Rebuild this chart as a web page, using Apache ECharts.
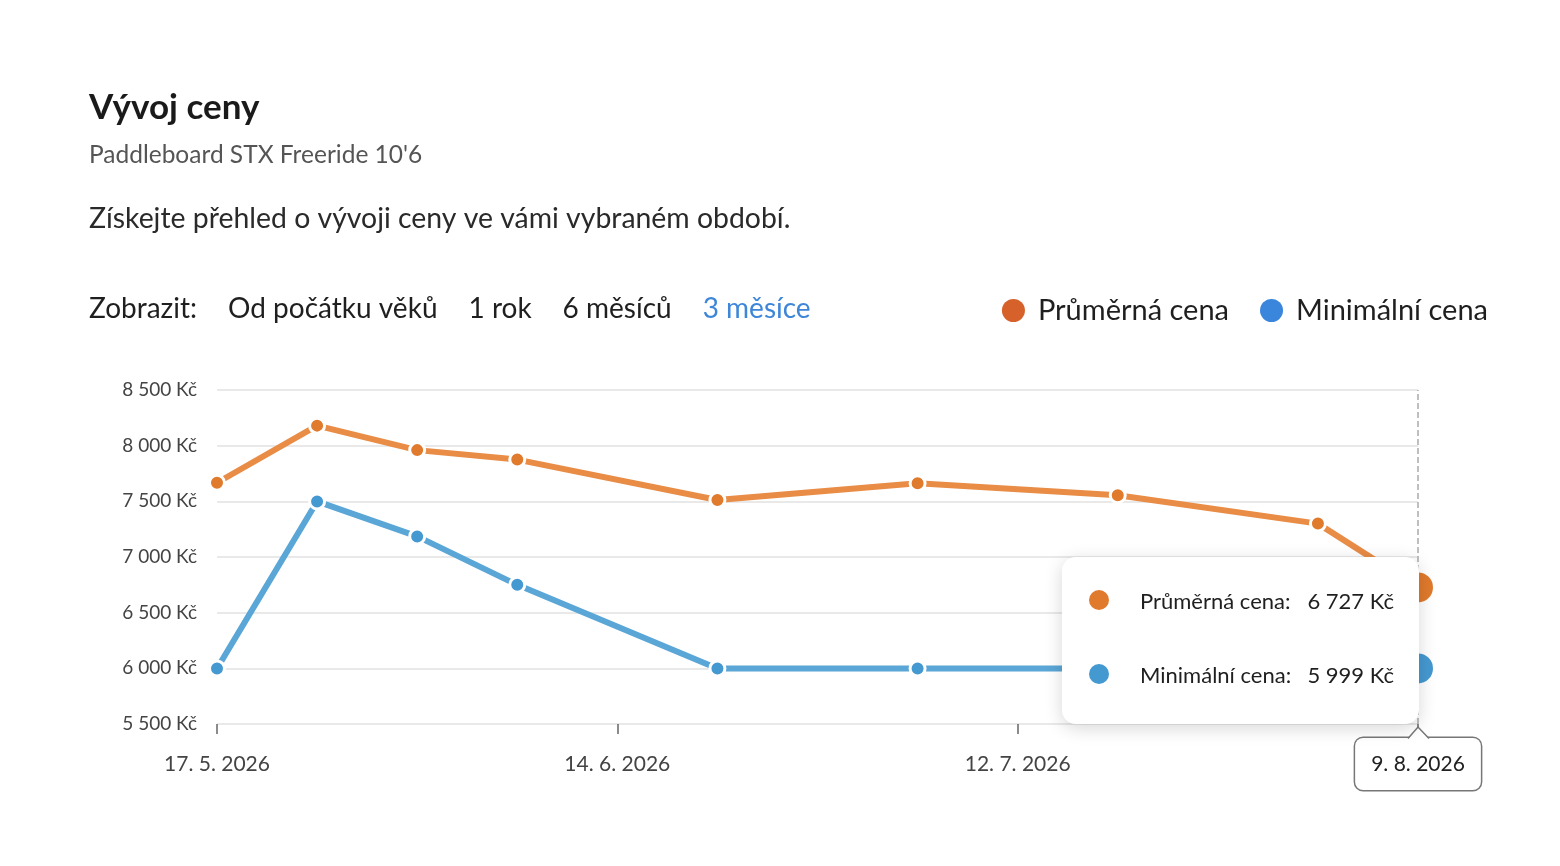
<!DOCTYPE html>
<html>

<head>
    <meta charset="utf-8">
    <title>Vývoj ceny</title>
    <script src="https://cdn.jsdelivr.net/npm/echarts@6/dist/echarts.min.js"></script>
    <style>
        html, body {
            margin: 0;
            padding: 0;
            background: #fff;
        }

        #view {
            width: 1560px;
            height: 866px;
        }
    </style>
</head>

<body>
    <div id="view"></div>
    <script>
        // data
        var dates = ['2026-05-17', '2026-05-24', '2026-05-31', '2026-06-07', '2026-06-21',
            '2026-07-05', '2026-07-19', '2026-08-02', '2026-08-09'];
        var avgPrice = [7667, 8180, 7960, 7875, 7512, 7662, 7555, 7300, 6727];
        var minPrice = [5999, 7499, 7185, 6750, 5999, 5999, 5999, 5999, 5999];
        var seriesNames = ['Průměrná cena', 'Minimální cena'];
        var periods = ['Od počátku věků', '1 rok', '6 měsíců', '3 měsíce'];
        var activePeriod = 3;
        var yTicks = [5500, 6000, 6500, 7000, 7500, 8000, 8500];

        var FONT = 'Lato, "Noto Sans", sans-serif';
        var DAY = 86400000;
        var start = Date.parse(dates[0]);
        // x = days since first date
        function dayOf(d) { return Math.round((Date.parse(d) - start) / DAY); }
        function dateLabel(day) {
            var d = new Date(start + day * DAY);
            return d.getUTCDate() + '. ' + (d.getUTCMonth() + 1) + '. ' + d.getUTCFullYear();
        }
        function kc(v) {
            return String(Math.round(v)).replace(/\B(?=(\d{3})+(?!\d))/g, ' ') + ' Kč';
        }

        var avgData = dates.map(function (d, i) { return [dayOf(d), avgPrice[i]]; });
        var minData = dates.map(function (d, i) { return [dayOf(d), minPrice[i]]; });
        var lastDay = dayOf(dates[dates.length - 1]);

        // layout of the "Zobrazit" row
        var ctx = document.createElement('canvas').getContext('2d');
        ctx.font = '28px ' + FONT;
        var rowItems = [];
        var xx = 89;
        ['Zobrazit:'].concat(periods).forEach(function (t, i) {
            rowItems.push({
                type: 'text', id: 'row' + i, x: xx, y: 309,
                style: {
                    text: t, font: '28px ' + FONT, verticalAlign: 'middle',
                    fill: (i - 1 === activePeriod) ? '#3d86d8' : '#1f1f1f'
                }
            });
            xx += ctx.measureText(t).width + 31;
        });

        var colors = ['#e07a2c', '#4599d1'];
        var lineColors = ['#e88c46', '#5aa6d6'];
        var legendColors = ['#d6612a', '#3a86dc'];

        var view = echarts.init(document.getElementById('view'));
        var option = {
            animation: false,
            textStyle: { fontFamily: FONT },
            grid: { left: 217, right: 142, top: 390, bottom: 142 },
            graphic: [
                { type: 'text', id: 'title', x: 89, y: 108, style: { text: 'Vývoj ceny', font: 'bold 35px ' + FONT, fill: '#1a1a1a', verticalAlign: 'middle' } },
                { type: 'text', id: 'sub', x: 89, y: 155, style: { text: 'Paddleboard STX Freeride 10\'6', font: '24.5px ' + FONT, fill: '#555', verticalAlign: 'middle' } },
                { type: 'text', id: 'desc', x: 89, y: 219, style: { text: 'Získejte přehled o vývoji ceny ve vámi vybraném období.', font: '28.4px ' + FONT, fill: '#2a2a2a', verticalAlign: 'middle' } }
            ].concat(rowItems),
            legend: {
                right: 67,
                top: 291,
                icon: 'circle',
                itemWidth: 23,
                itemHeight: 23,
                itemGap: 31,
                selectedMode: false,
                textStyle: { fontSize: 29, color: '#1f1f1f', padding: [0, 0, 0, 8] },
                data: seriesNames.map(function (n, i) {
                    return { name: n, itemStyle: { color: legendColors[i], borderWidth: 0 } };
                })
            },
            tooltip: {
                trigger: 'axis',
                triggerOn: 'none',
                alwaysShowContent: true,
                transitionDuration: 0,
                backgroundColor: '#fff',
                borderWidth: 0,
                padding: 0,
                extraCssText: 'border-radius:14px;box-shadow:0 4px 18px rgba(0,0,0,0.16);',
                axisPointer: {
                    type: 'line',
                    lineStyle: { color: '#aaa', type: 'dashed', width: 1.5 },
                    label: {
                        show: true,
                        backgroundColor: '#fff',
                        borderColor: '#777',
                        borderWidth: 1.5,
                        borderRadius: 8,
                        padding: [16, 16, 15, 16],
                        color: '#222',
                        fontSize: 21,
                        fontFamily: FONT,
                        margin: 14,
                        shadowBlur: 0,
                        formatter: function (p) { return dateLabel(p.value); }
                    }
                },
                position: function (point, params, dom, rect, size) {
                    var px = view.convertToPixel({ gridIndex: 0 }, [lastDay, yTicks[0]]);
                    return [px[0] - size.contentSize[0] + 1, px[1] - size.contentSize[1]];
                },
                formatter: function (params) {
                    var html = '<div style="width:305px;padding:25px 25px 32px 27px;font-family:' + FONT.replace(/"/g, '\'') + ';font-size:22px;color:#1f1f1f;">';
                    params.forEach(function (p, i) {
                        html += '<div style="display:flex;align-items:center;height:36px;margin-top:' + (i ? 38 : 0) + 'px;">' +
                            '<span style="display:inline-block;width:20px;height:20px;border-radius:10px;background:' + colors[p.seriesIndex] + ';margin-right:31px;"></span>' +
                            '<span style="flex:1;">' + p.seriesName + ':</span>' +
                            '<span>' + kc(p.value[1]) + '</span></div>';
                    });
                    return html + '</div>';
                }
            },
            xAxis: {
                type: 'value',
                min: 0,
                max: lastDay,
                interval: 28,
                axisLine: { show: false },
                axisTick: { show: true, length: 10, lineStyle: { color: '#666', width: 1.5 } },
                splitLine: { show: false },
                axisLabel: {
                    fontSize: 21, color: '#444', margin: 30,
                    formatter: function (v) { return dateLabel(v); }
                }
            },
            yAxis: {
                type: 'value',
                min: yTicks[0],
                max: yTicks[yTicks.length - 1],
                interval: 500,
                axisLine: { show: false },
                axisTick: { show: false },
                splitLine: { lineStyle: { color: '#e2e2e2', width: 1.5 } },
                axisLabel: { fontSize: 19, color: '#444', margin: 20, formatter: kc }
            },
            series: [avgData, minData].map(function (d, i) {
                return {
                    name: seriesNames[i],
                    type: 'line',
                    data: d,
                    symbol: 'circle',
                    symbolSize: 15,
                    showAllSymbol: true,
                    color: colors[i],
                    itemStyle: { color: colors[i], borderColor: '#fff', borderWidth: 3 },
                    lineStyle: { color: lineColors[i], width: 6 },
                    emphasis: {
                        scale: 2,
                        itemStyle: { color: colors[i], borderWidth: 0 },
                        lineStyle: { color: lineColors[i], width: 6 }
                    }
                };
            })
        };
        view.setOption(option);

        // small arrow on top of the date box of the axis pointer
        var tip = view.convertToPixel({ gridIndex: 0 }, [lastDay, yTicks[0]]);
        view.setOption({
            graphic: [
                {
                    type: 'polygon', id: 'arrowFill', z: 300,
                    shape: { points: [[tip[0] - 10, tip[1] + 15], [tip[0], tip[1] + 3], [tip[0] + 11, tip[1] + 15]] },
                    style: { fill: '#fff' }
                },
                {
                    type: 'polyline', id: 'arrowLine', z: 301,
                    shape: { points: [[tip[0] - 10, tip[1] + 14.5], [tip[0], tip[1] + 3], [tip[0] + 11, tip[1] + 14.5]] },
                    style: { fill: null, stroke: '#777', lineWidth: 1.5 }
                }
            ]
        });
        view.dispatchAction({ type: 'showTip', seriesIndex: 0, dataIndex: dates.length - 1 });
        view.dispatchAction({ type: 'highlight', seriesIndex: [0, 1], dataIndex: dates.length - 1 });
    </script>
</body>

</html>
